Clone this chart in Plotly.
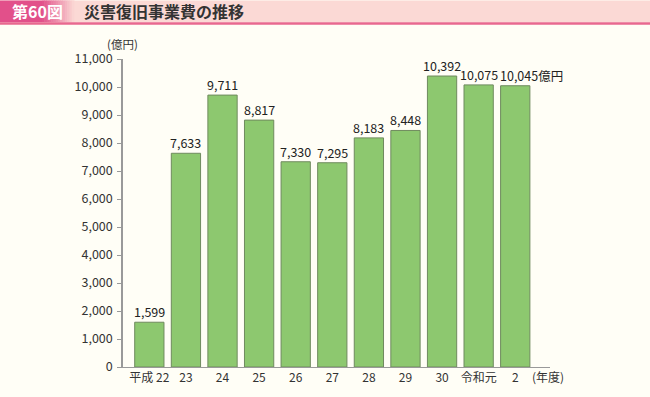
import plotly.graph_objects as go

categories = ["平成 22", "23", "24", "25", "26", "27", "28", "29", "30", "令和元", "2"]
values = [1599, 7633, 9711, 8817, 7330, 7295, 8183, 8448, 10392, 10075, 10045]
y_ticks = list(range(0, 11001, 1000))
y_tick_text = ["{:,}".format(v) for v in y_ticks]

W, H = 650, 397
L, R, T, B = 123, 550, 59, 369
FONT = "Noto Sans CJK JP, Noto Sans, sans-serif"
BG = "#fffef6"


def px(x):
    return (x - L) / (R - L)


def py(y):
    return (B - y) / (B - T)


fig = go.Figure()
fig.add_trace(go.Bar(
    x=list(range(len(categories))), y=values,
    marker=dict(color="#8dc86f", line=dict(color="#6f8a5e", width=1)),
    width=0.8, hoverinfo="skip",
))

annotations = []
for i, v in enumerate(values):
    if i == len(values) - 1:
        annotations.append(dict(x=i, y=v, xref="x", yref="y", text="{:,}億円".format(v),
                                showarrow=False, xanchor="left", yanchor="bottom", xshift=-17, yshift=-1,
                                font=dict(size=12.5, color="#222", family=FONT)))
    else:
        annotations.append(dict(x=i, y=v, xref="x", yref="y", text="{:,}".format(v),
                                showarrow=False, xanchor="center", yanchor="bottom", yshift=-1,
                                font=dict(size=12.5, color="#222", family=FONT)))

annotations += [
    dict(x=px(122), y=py(44), xref="paper", yref="paper", text="(億円)", showarrow=False,
         xanchor="center", yanchor="middle", font=dict(size=11.5, color="#333", family=FONT)),
    dict(x=px(548), y=py(379), xref="paper", yref="paper", text="(年度)", showarrow=False,
         xanchor="center", yanchor="middle", font=dict(size=12, color="#333", family=FONT)),
    dict(x=px(10), y=py(11), xref="paper", yref="paper", text="<b>第60図</b>", showarrow=False,
         xanchor="left", yanchor="middle", font=dict(size=16, color="#ffffff", family=FONT)),
    dict(x=px(82), y=py(11), xref="paper", yref="paper", text="<b>災害復旧事業費の推移</b>", showarrow=False,
         xanchor="left", yanchor="middle", font=dict(size=16, color="#333333", family=FONT)),
]

shapes = [
    dict(type="rect", xref="paper", yref="paper", x0=px(0), x1=px(W), y0=py(0), y1=py(22),
         fillcolor="#fbd9d5", line=dict(width=0), layer="below"),
    dict(type="rect", xref="paper", yref="paper", x0=px(0), x1=px(42), y0=py(0), y1=py(22),
         fillcolor="#e2508a", line=dict(width=0), layer="below"),
]
# gradient strip of the label box
steps = 14
c0 = (0xe2, 0x50, 0x8a)
c1 = (0xfb, 0xd9, 0xd5)
for k in range(steps):
    t = (k + 0.5) / steps
    c = tuple(int(c0[j] + (c1[j] - c0[j]) * t) for j in range(3))
    xa = 42 + k * 32 / steps
    xb = 42 + (k + 1) * 32 / steps + 0.5
    shapes.append(dict(type="rect", xref="paper", yref="paper", x0=px(xa), x1=px(xb), y0=py(0), y1=py(22),
                       fillcolor="rgb(%d,%d,%d)" % c, line=dict(width=0), layer="below"))
shapes.append(dict(type="rect", xref="paper", yref="paper", x0=px(0), x1=px(W), y0=py(22), y1=py(24.5),
                   fillcolor="#e8688f", line=dict(width=0), layer="below"))

fig.update_layout(
    width=W, height=H,
    margin=dict(l=L, r=W - R, t=T, b=H - B, pad=0),
    paper_bgcolor=BG, plot_bgcolor=BG,
    showlegend=False, bargap=0.18,
    font=dict(family=FONT, size=12, color="#333"),
    xaxis=dict(range=[-0.72, 10.95], tickmode="array", tickvals=list(range(len(categories))),
               ticktext=categories, showgrid=False, zeroline=False, showline=True,
               linecolor="#999", linewidth=1, ticks="", tickfont=dict(size=12, color="#333", family=FONT)),
    yaxis=dict(range=[0, 11000], tickmode="array", tickvals=y_ticks, ticktext=y_tick_text,
               showgrid=False, zeroline=False, showline=True, linecolor="#999", linewidth=1.5,
               ticks="outside", ticklen=4, tickcolor="#999", ticklabelstandoff=2,
               tickfont=dict(size=12.5, color="#333", family=FONT)),
    annotations=annotations, shapes=shapes,
)
for a in fig.layout.annotations:
    a.update(captureevents=False)
fig.update_layout(xaxis_fixedrange=True, yaxis_fixedrange=True)

fig.write_html("out.html", config={"displayModeBar": False},
               post_script="document.body.style.margin='0';document.body.style.background='%s';" % BG)
